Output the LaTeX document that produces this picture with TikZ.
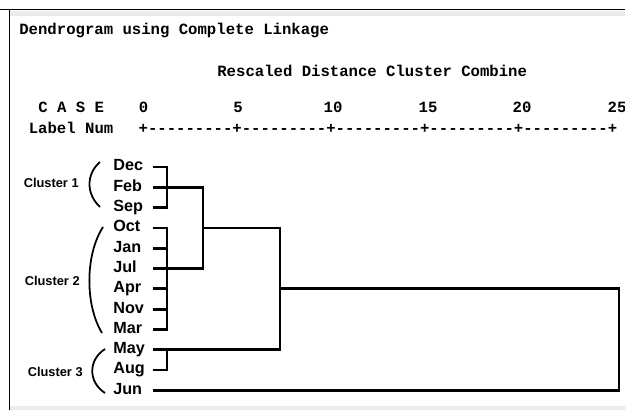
\documentclass[tikz,border=0pt]{standalone}
\usepackage{fontspec}
\setmainfont{Liberation Sans}
\setmonofont{Liberation Mono}
\usetikzlibrary{calc}

\begin{document}
\begin{tikzpicture}[x=0.02cm, y=-0.02cm,
        leaf/.style={anchor=west, inner sep=0pt, text width=0.78cm, align=left, text height=6.5pt, text depth=2pt, font=\fontsize{9.2}{10}\selectfont\bfseries},
        mono/.style={anchor=base west, inner sep=0pt, font=\fontsize{8.9}{10}\selectfont\ttfamily\bfseries},
        clabel/.style={anchor=east, inner sep=0pt, font=\fontsize{7.3}{8}\selectfont\bfseries},
        link/.style={line width=1.6pt},
        brace/.style={line width=1pt}]
        \useasboundingbox (0,0) rectangle (625,410);

        % window frame
        \fill[black!8] (10,11) rectangle (625,16);
        \fill[black!8] (10,406) rectangle (625,410);
        \draw[line width=0.7pt] (0,9.5) -- (625,9.5);
        \draw[line width=0.6pt] (9.5,9.5) -- (9.5,410);

        % header
        \node[mono] (title) at (19,34) {Dendrogram using Complete Linkage};
        \node[mono] (scale) at (217,76) {Rescaled Distance Cluster Combine};
        \node[mono] (case) at (38,112) {C A S E};
        \node[mono] (label) at (28.5,133) {Label Num};
        \node[mono] (axis) at (138.3,133) {+---------+---------+---------+---------+---------+};
        \node[mono, anchor=base] (n0) at (143.5,112) {0};
        \node[mono, anchor=base] (n5) at (238,112) {5};
        \node[mono, anchor=base] (n10) at (333,112) {10};
        \node[mono, anchor=base] (n15) at (428,112) {15};
        \node[mono, anchor=base] (n20) at (522,112) {20};
        \node[mono, anchor=base] (n25) at (617,112) {25};

        % cases
        \node[leaf] (dec) at (113,167) {Dec};
        \node[leaf] (feb) at (113,187.3) {Feb};
        \node[leaf] (sep) at (113,207.6) {Sep};
        \node[leaf] (oct) at (113,227.9) {Oct};
        \node[leaf] (jan) at (113,248.2) {Jan};
        \node[leaf] (jul) at (113,268.5) {Jul};
        \node[leaf] (apr) at (113,288.8) {Apr};
        \node[leaf] (nov) at (113,309.1) {Nov};
        \node[leaf] (mar) at (113,329.4) {Mar};
        \node[leaf] (may) at (113,349.7) {May};
        \node[leaf] (aug) at (113,370) {Aug};
        \node[leaf] (jun) at (113,390.3) {Jun};

        % merge columns
        \coordinate (k1) at (167,0);
        \coordinate (k2) at (203,0);
        \coordinate (k3) at (280,0);
        \coordinate (k4) at (619,0);

        \draw[link] (dec.east) -| (k1 |- sep.east) -- (sep.east);
        \draw[link] (oct.east) -| (k1 |- mar.east) -- (mar.east);
        \draw[link] (jan.east) -- (k1 |- jan.east);
        \draw[link] (apr.east) -- (k1 |- apr.east);
        \draw[link] (nov.east) -- (k1 |- nov.east);
        \draw[link] (aug.east) -| (k1 |- may.east);
        \draw[link] (feb.east) -| (k2 |- jul.east) -- (jul.east);
        \coordinate (m12) at ($(k2 |- feb.east)!0.5!(k2 |- jul.east)$);
        \draw[link] (m12) -| (k3 |- may.east) -- (may.east);
        \coordinate (m123) at ($(m12 -| k3)!0.5!(k3 |- may.east)$);
        \draw[link] (m123) -| (k4 |- jun.east) -- (jun.east);

        % cluster brackets
        \node[clabel] (cl1) at (79,183) {Cluster 1};
        \node[clabel] (cl2) at (80,281) {Cluster 2};
        \node[clabel] (cl3) at (83,372) {Cluster 3};
        \draw[brace] (100,162) .. controls (86,174) and (86,194) .. (100,207);
        \draw[brace] (103,227) .. controls (85,255) and (85,305) .. (102,333);
        \draw[brace] (105,349) .. controls (88,360) and (88,382) .. (105,393);
    \end{tikzpicture}
\end{document}
